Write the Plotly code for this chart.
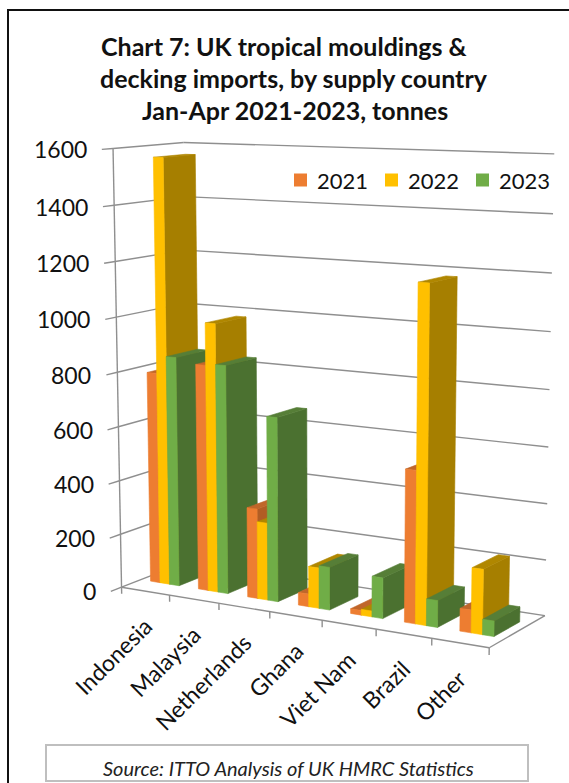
import numpy as np
import plotly.graph_objects as go

# ---- data (tonnes, Jan-Apr) ----
categories = ["Indonesia", "Malaysia", "Netherlands", "Ghana", "Viet Nam", "Brazil", "Other"]
years = ["2021", "2022", "2023"]
v2021 = [785, 832, 330, 46, 17, 540, 80]
v2022 = [1565, 985, 283, 147, 21, 1182, 228]
v2023 = [850, 838, 670, 155, 146, 95, 54]
value_ticks = [0, 200, 400, 600, 800, 1000, 1200, 1400, 1600]
series = [v2021, v2022, v2023]

# ---- styling ----
FONT = "Lato"
FACE_COLORS = [
    dict(front="#ED7D31", side="#B15D24", top="#C0662A"),
    dict(front="#FFC000", side="#A67F00", top="#B08700"),
    dict(front="#70AD47", side="#4B7130", top="#567E37"),
]
GRID = "#8F8F8F"
W, H = 569, 783
ZMAX = value_ticks[-1]
NCAT = len(categories)
DEPTH = 1.0
BAR_W = 0.2          # bar width in category units
BAR_Y0, BAR_Y1 = 0.28, 0.74   # bar extent along the depth axis

# ---- perspective camera, solved from where the plot box corners sit on the page ----
# world: X = category position, Y = depth, Z = tonnes
ANCHORS = [
    ((0, 0, 0), (122, 588)),
    ((0, 0, 1600), (113, 149)),
    ((0, 0, 800), (117.6, 370)),
    ((7, 0, 0), (488.3, 648)),
    ((3, 0, 0), (270, 612.3)),
    ((7, 1, 0), (545, 615)),
    ((0, 1, 1600), (183, 143)),
    ((7, 1, 1600), (555, 154)),
]
ZS = 400.0


def fit_camera(anchors):
    img = np.array([p for _, p in anchors], float)
    mu = img.mean(0)
    s = np.abs(img - mu).mean()
    rows = []
    for (X, Y, Z), (u, v) in zip([a for a, _ in anchors], (img - mu) / s):
        Z = Z / ZS
        rows.append([X, Y, Z, 1, 0, 0, 0, 0, -u * X, -u * Y, -u * Z, -u])
        rows.append([0, 0, 0, 0, X, Y, Z, 1, -v * X, -v * Y, -v * Z, -v])
    _, _, vt = np.linalg.svd(np.array(rows))
    P = vt[-1].reshape(3, 4)
    T = np.array([[s, 0, mu[0]], [0, s, mu[1]], [0, 0, 1]])
    return T @ P


P = fit_camera(ANCHORS)


def proj(X, Y, Z):
    h = P @ np.array([X, Y, Z / ZS, 1.0])
    return float(h[0] / h[2]), float(h[1] / h[2])


def poly(points):
    pts = [proj(*p) for p in points]
    pts.append(pts[0])
    return [p[0] for p in pts], [p[1] for p in pts]


fig = go.Figure()


def add_line(p, q, color=GRID, width=1.4):
    a, b = proj(*p), proj(*q)
    fig.add_trace(go.Scatter(x=[a[0], b[0]], y=[a[1], b[1]], mode="lines",
                             line=dict(color=color, width=width),
                             hoverinfo="skip", showlegend=False))


# walls: horizontal gridlines on the side wall and the back wall, plus value-axis ticks
for v in value_ticks:
    add_line((0, -0.15, v), (0, 0, v))
    add_line((0, 0, v), (0, DEPTH, v))
    add_line((0, DEPTH, v), (NCAT, DEPTH, v))

# floor edges, value axis line and category ticks
add_line((0, 0, 0), (0, 0, ZMAX))
add_line((0, 0, 0), (NCAT, 0, 0))
add_line((NCAT, 0, 0), (NCAT, DEPTH, 0))
for k in range(NCAT + 1):
    add_line((k, 0, 0), (k, 0, -25))

# bars, drawn from the far (left) side towards the viewer
margin = (1 - BAR_W * len(series)) / 2
for i, cat in enumerate(categories):
    for j, vals in enumerate(series):
        v = vals[i]
        x0 = i + margin + j * BAR_W
        x1 = x0 + BAR_W
        c = FACE_COLORS[j]
        faces = [
            ([(x1, BAR_Y0, 0), (x1, BAR_Y1, 0), (x1, BAR_Y1, v), (x1, BAR_Y0, v)], c["side"]),
            ([(x0, BAR_Y0, v), (x1, BAR_Y0, v), (x1, BAR_Y1, v), (x0, BAR_Y1, v)], c["top"]),
            ([(x0, BAR_Y0, 0), (x1, BAR_Y0, 0), (x1, BAR_Y0, v), (x0, BAR_Y0, v)], c["front"]),
        ]
        for pts, col in faces:
            xs, ys = poly(pts)
            fig.add_trace(go.Scatter(x=xs, y=ys, mode="lines", fill="toself",
                                     fillcolor=col, line=dict(color=col, width=0.6),
                                     name=f"{cat} {years[j]}: {v}",
                                     hoverinfo="name", showlegend=False))

annotations = []
# value-axis labels
for v in value_ticks:
    u, w = proj(0, -0.15, v)
    annotations.append(dict(x=u - 13, y=w, text=str(v), showarrow=False,
                            xanchor="right", yanchor="middle",
                            font=dict(family=FONT, size=23, color="#111")))
# category labels, rotated
for i, cat in enumerate(categories):
    u, w = proj(i + 0.5, 0, 0)
    annotations.append(dict(x=u + 15, y=w + 18, text=cat, showarrow=False,
                            textangle=-45, xanchor="right", yanchor="top",
                            font=dict(family=FONT, size=23, color="#111")))

# title
title_lines = ["Chart 7: UK tropical mouldings &",
               "decking imports, by supply country",
               "Jan-Apr 2021-2023, tonnes"]
title_x = [284, 294, 295]
for k, line in enumerate(title_lines):
    annotations.append(dict(x=title_x[k], y=46 + 32 * k, text=f"<b>{line}</b>", showarrow=False,
                            xanchor="center", yanchor="middle",
                            font=dict(family=FONT, size=25, color="#111")))

# legend
shapes = []
legend_x = [294, 385, 476]
for j, yr in enumerate(years):
    shapes.append(dict(type="rect", xref="x", yref="y", x0=legend_x[j], x1=legend_x[j] + 13,
                       y0=173.5, y1=186.5, fillcolor=FACE_COLORS[j]["front"], line=dict(width=0)))
    annotations.append(dict(x=legend_x[j] + 21, y=180, text=yr, showarrow=False,
                            xanchor="left", yanchor="middle",
                            font=dict(family=FONT, size=22, color="#111")))

# source box
shapes.append(dict(type="rect", xref="x", yref="y", x0=46, x1=528, y0=745, y1=781,
                   line=dict(color="#BFBFBF", width=2), fillcolor="rgba(0,0,0,0)"))
annotations.append(dict(x=288, y=768, text="<i>Source: ITTO Analysis of UK HMRC Statistics</i>",
                        showarrow=False, xanchor="center", yanchor="middle",
                        font=dict(family=FONT, size=20, color="#222")))

# outer chart border
shapes.append(dict(type="rect", xref="x", yref="y", x0=8, x1=W + 10, y0=10, y1=H + 10,
                   line=dict(color="#111", width=2), fillcolor="rgba(0,0,0,0)"))

fig.update_layout(
    width=W, height=H, margin=dict(l=0, r=0, t=0, b=0),
    paper_bgcolor="white", plot_bgcolor="white",
    xaxis=dict(range=[0, W], visible=False, fixedrange=True),
    yaxis=dict(range=[H, 0], visible=False, fixedrange=True),
    showlegend=False, annotations=annotations, shapes=shapes,
)

fig.write_html("out.html")
